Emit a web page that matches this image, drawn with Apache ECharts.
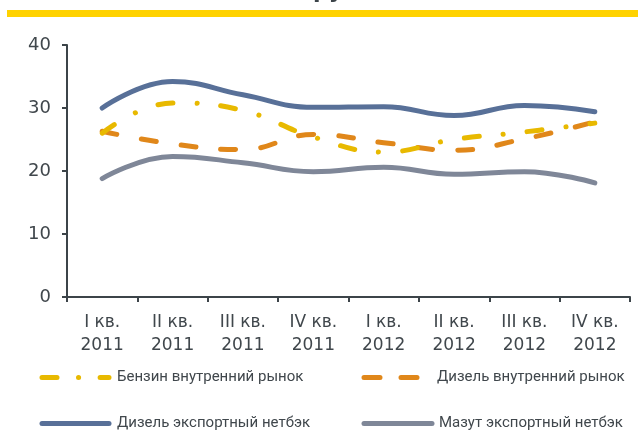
<!DOCTYPE html>
<html><head><meta charset="utf-8">
<script src="https://cdn.jsdelivr.net/npm/echarts@6/dist/echarts.min.js"></script>
<style>html,body{margin:0;padding:0;background:#fff}#c{width:638px;height:432px}</style>
</head><body><div id="c"></div>
<script>
const quarters = ['I кв.', 'II кв.', 'III кв.', 'IV кв.', 'I кв.', 'II кв.', 'III кв.', 'IV кв.'];
const years = ['2011', '2011', '2011', '2011', '2012', '2012', '2012', '2012'];
const benzinDomestic = [26.0, 30.8, 29.6, 25.4, 23.0, 25.0, 26.2, 27.6];
const dieselDomestic = [26.3, 24.3, 23.4, 25.8, 24.5, 23.3, 25.1, 27.8];
const dieselExport = [30.0, 34.2, 32.1, 30.1, 30.2, 28.8, 30.4, 29.4];
const mazutExport = [18.8, 22.3, 21.3, 19.9, 20.6, 19.5, 19.9, 18.1];
const yMin = 0, yMax = 40, yStep = 10;
const names = ['Бензин внутренний рынок', 'Дизель внутренний рынок', 'Дизель экспортный нетбэк', 'Мазут экспортный нетбэк'];

const categories = quarters.map((q, i) => q + '\n' + years[i]);
const C = { yellow: '#e8b900', orange: '#e0871a', blue: '#587098', gray: '#7f8798', axis: '#3c4449', text: '#40474c' };
const FONT = 'DejaVu Sans';
const LFONT = 'Roboto';

function mkSeries(name, data, color, dash) {
  return {
    name, type: 'line', data, smooth: 0.45, symbol: 'none', showSymbol: false,
    lineStyle: { color, width: 5, type: dash, cap: 'round', join: 'round' },
    itemStyle: { color }, z: 3
  };
}
function mkLegend(name, left, top, w, dash, pad) {
  return {
    data: [name], left, top, padding: 0, itemWidth: w, itemHeight: 18, selectedMode: false,
    itemStyle: { color: 'rgba(0,0,0,0)', borderWidth: 0, opacity: 0 },
    lineStyle: { width: 5, type: dash, cap: 'round' },
    textStyle: { fontFamily: LFONT, fontSize: 15, color: C.text, padding: [0, 0, 0, pad] }
  };
}

const chart = echarts.init(document.getElementById('c'), null, { renderer: 'canvas' });
chart.setOption({
  animation: false,
  backgroundColor: '#fff',
  graphic: [
    { type: 'rect', shape: { x: 7, y: 10, width: 631, height: 7 }, style: { fill: '#ffd200' } },
    { type: 'text', x: 313, y: 3.5, style: { text: 'руб.', fontFamily: FONT, fontSize: 22, fontWeight: 'bold', fill: C.axis, verticalAlign: 'bottom' } }
  ],
  grid: { left: 67, right: 8, top: 45, bottom: 135, containLabel: false },
  xAxis: {
    type: 'category', data: categories, boundaryGap: true,
    axisLine: { lineStyle: { color: C.axis, width: 2 } },
    axisTick: { show: true, length: 5, lineStyle: { color: C.axis, width: 2 } },
    axisLabel: { color: C.text, fontFamily: FONT, fontSize: 17, lineHeight: 23, margin: 14, interval: 0 },
    splitLine: { show: false }
  },
  yAxis: {
    type: 'value', min: yMin, max: yMax, interval: yStep,
    axisLine: { show: true, lineStyle: { color: C.axis, width: 2 } },
    axisTick: { show: true, length: 5, lineStyle: { color: C.axis, width: 2 } },
    axisLabel: { color: C.text, fontFamily: FONT, fontSize: 18, margin: 16 },
    splitLine: { show: false }
  },
  legend: [
    mkLegend(names[0], 39.5, 370, 67, [15, 21.5, 0.1, 21.5], 3),
    mkLegend(names[1], 361.5, 370, 53, [16, 21], 15),
    mkLegend(names[2], 39.5, 416, 67, 'solid', 3),
    mkLegend(names[3], 361.5, 416, 68, 'solid', 2)
  ],
  series: [
    mkSeries(names[3], mazutExport, C.gray, 'solid'),
    mkSeries(names[2], dieselExport, C.blue, 'solid'),
    mkSeries(names[1], dieselDomestic, C.orange, [15, 25]),
    mkSeries(names[0], benzinDomestic, C.yellow, [15, 24, 0.1, 24])
  ]
});
</script>
</body></html>
